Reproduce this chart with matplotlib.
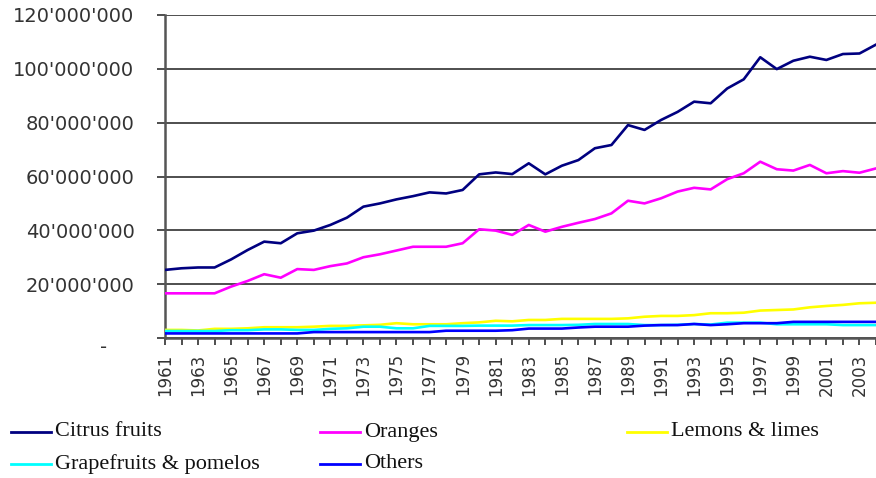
import matplotlib
matplotlib.use("Agg")
import matplotlib.pyplot as plt
from matplotlib.lines import Line2D
from matplotlib.ticker import FuncFormatter
from matplotlib.transforms import blended_transform_factory

years = list(range(1961, 2005))

citrus = [25.3, 25.9, 26.2, 26.2, 29.2, 32.7, 35.8, 35.2, 38.9, 39.9,
          42.0, 44.7, 48.8, 50.0, 51.5, 52.7, 54.1, 53.7, 55.0, 60.8,
          61.5, 60.9, 64.9, 60.8, 64.0, 66.1, 70.5, 71.7, 79.1, 77.3,
          81.0, 84.0, 87.8, 87.2, 92.7, 96.1, 104.3, 99.9, 103.0, 104.5,
          103.3, 105.5, 105.7, 109.0]
oranges = [16.6, 16.6, 16.6, 16.6, 19.1, 21.2, 23.7, 22.4, 25.6, 25.3,
           26.7, 27.7, 30.0, 31.1, 32.5, 33.9, 33.9, 33.9, 35.2, 40.4,
           39.9, 38.3, 42.0, 39.5, 41.3, 42.8, 44.2, 46.3, 51.0, 50.0,
           51.9, 54.4, 55.8, 55.2, 59.0, 61.2, 65.5, 62.7, 62.2, 64.3,
           61.2, 62.0, 61.4, 63.0]
lemons = [3.0, 3.0, 2.8, 3.4, 3.4, 3.6, 4.0, 4.0, 4.0, 4.2,
          4.5, 4.5, 4.7, 4.9, 5.5, 5.1, 5.1, 5.1, 5.5, 5.8,
          6.4, 6.2, 6.7, 6.7, 7.1, 7.1, 7.1, 7.1, 7.3, 7.9,
          8.2, 8.2, 8.5, 9.2, 9.2, 9.4, 10.2, 10.4, 10.6, 11.4,
          11.9, 12.3, 12.9, 13.1]
grapefruit = [2.6, 2.6, 2.6, 2.6, 2.9, 2.9, 3.2, 3.2, 3.0, 3.0,
              3.4, 3.6, 4.2, 4.2, 3.6, 3.6, 4.5, 4.5, 4.5, 4.6,
              4.6, 4.6, 4.8, 4.8, 4.8, 4.9, 5.2, 5.2, 5.2, 4.8,
              4.8, 4.9, 5.2, 5.0, 5.7, 5.7, 5.7, 5.1, 5.1, 5.1,
              5.1, 4.8, 4.8, 4.8]
others = [1.7, 1.7, 1.7, 1.7, 1.7, 1.7, 1.7, 1.7, 1.7, 2.2,
          2.2, 2.2, 2.2, 2.2, 2.2, 2.2, 2.2, 2.7, 2.7, 2.7,
          2.7, 2.9, 3.5, 3.5, 3.5, 3.9, 4.2, 4.2, 4.2, 4.6,
          4.8, 4.8, 5.2, 4.8, 5.1, 5.5, 5.5, 5.5, 6.0, 6.0,
          6.0, 6.0, 6.0, 6.0]

series_names = ["Citrus fruits", "Oranges", "Lemons & limes",
                "Grapefruits & pomelos", "Others"]
series_values = [citrus, oranges, lemons, grapefruit, others]
series_colors = ["#000080", "#FF00FF", "#FFFF00", "#00FFFF", "#0000FF"]

W, H = 876, 478
fig = plt.figure(figsize=(W / 100, H / 100), dpi=100)
left_px, right_px, top_px, bottom_px = 165, 876, 15, 338
ax = fig.add_axes([left_px / W, 1 - bottom_px / H,
                   (right_px - left_px) / W, (bottom_px - top_px) / H])

for vals, col in zip(series_values, series_colors):
    ax.plot(years, [v * 1e6 for v in vals], color=col, lw=1.9,
            solid_joinstyle="round", clip_on=True, zorder=3)

x_right = 1961 + (right_px - left_px) / 16.6
ax.set_xlim(1961, x_right)
ax.set_ylim(0, 120e6)

ax.set_yticks([0, 20e6, 40e6, 60e6, 80e6, 100e6, 120e6])

def yfmt(v, pos):
    if v == 0:
        return ""
    return "{:,.0f}".format(v).replace(",", "'")

ax.yaxis.set_major_formatter(FuncFormatter(yfmt))
ax.set_xticks(years)
ax.set_xticklabels([str(y) if (y - 1961) % 2 == 0 else "" for y in years],
                   rotation=90)

# zero label shown as a dash, as in the source
ax.text(-58 / (right_px - left_px), 0, "-", transform=ax.transAxes,
        ha="right", va="top", fontsize=14, color="#333333")

ax.grid(axis="y", color="#404040", lw=1.3, zorder=1)
ax.set_axisbelow(True)
for s in ["top", "right"]:
    ax.spines[s].set_visible(False)
for s in ["left", "bottom"]:
    ax.spines[s].set_color("#555555")
    ax.spines[s].set_linewidth(1.8)

ax.tick_params(axis="y", direction="out", length=6, width=1.3,
               color="#404040", pad=16, labelsize=14, labelcolor="#333333")
ax.tick_params(axis="x", direction="out", length=5, width=1.3,
               color="#404040", pad=6, labelsize=12, labelcolor="#333333")

# legend below the chart
leg_pos = [(11, 432), (320, 432), (627, 432), (11, 464), (320, 464)]
for (lx, ly), name, col in zip(leg_pos, series_names, series_colors):
    fig.add_artist(Line2D([lx / W, (lx + 40) / W], [1 - ly / H, 1 - ly / H],
                          color=col, lw=2.0, transform=fig.transFigure))
    fig.text((lx + 44) / W, 1 - ly / H, name, family="Liberation Serif",
             fontsize=16, va="center", ha="left", color="#111111")

fig.savefig("out.png", dpi=100)
